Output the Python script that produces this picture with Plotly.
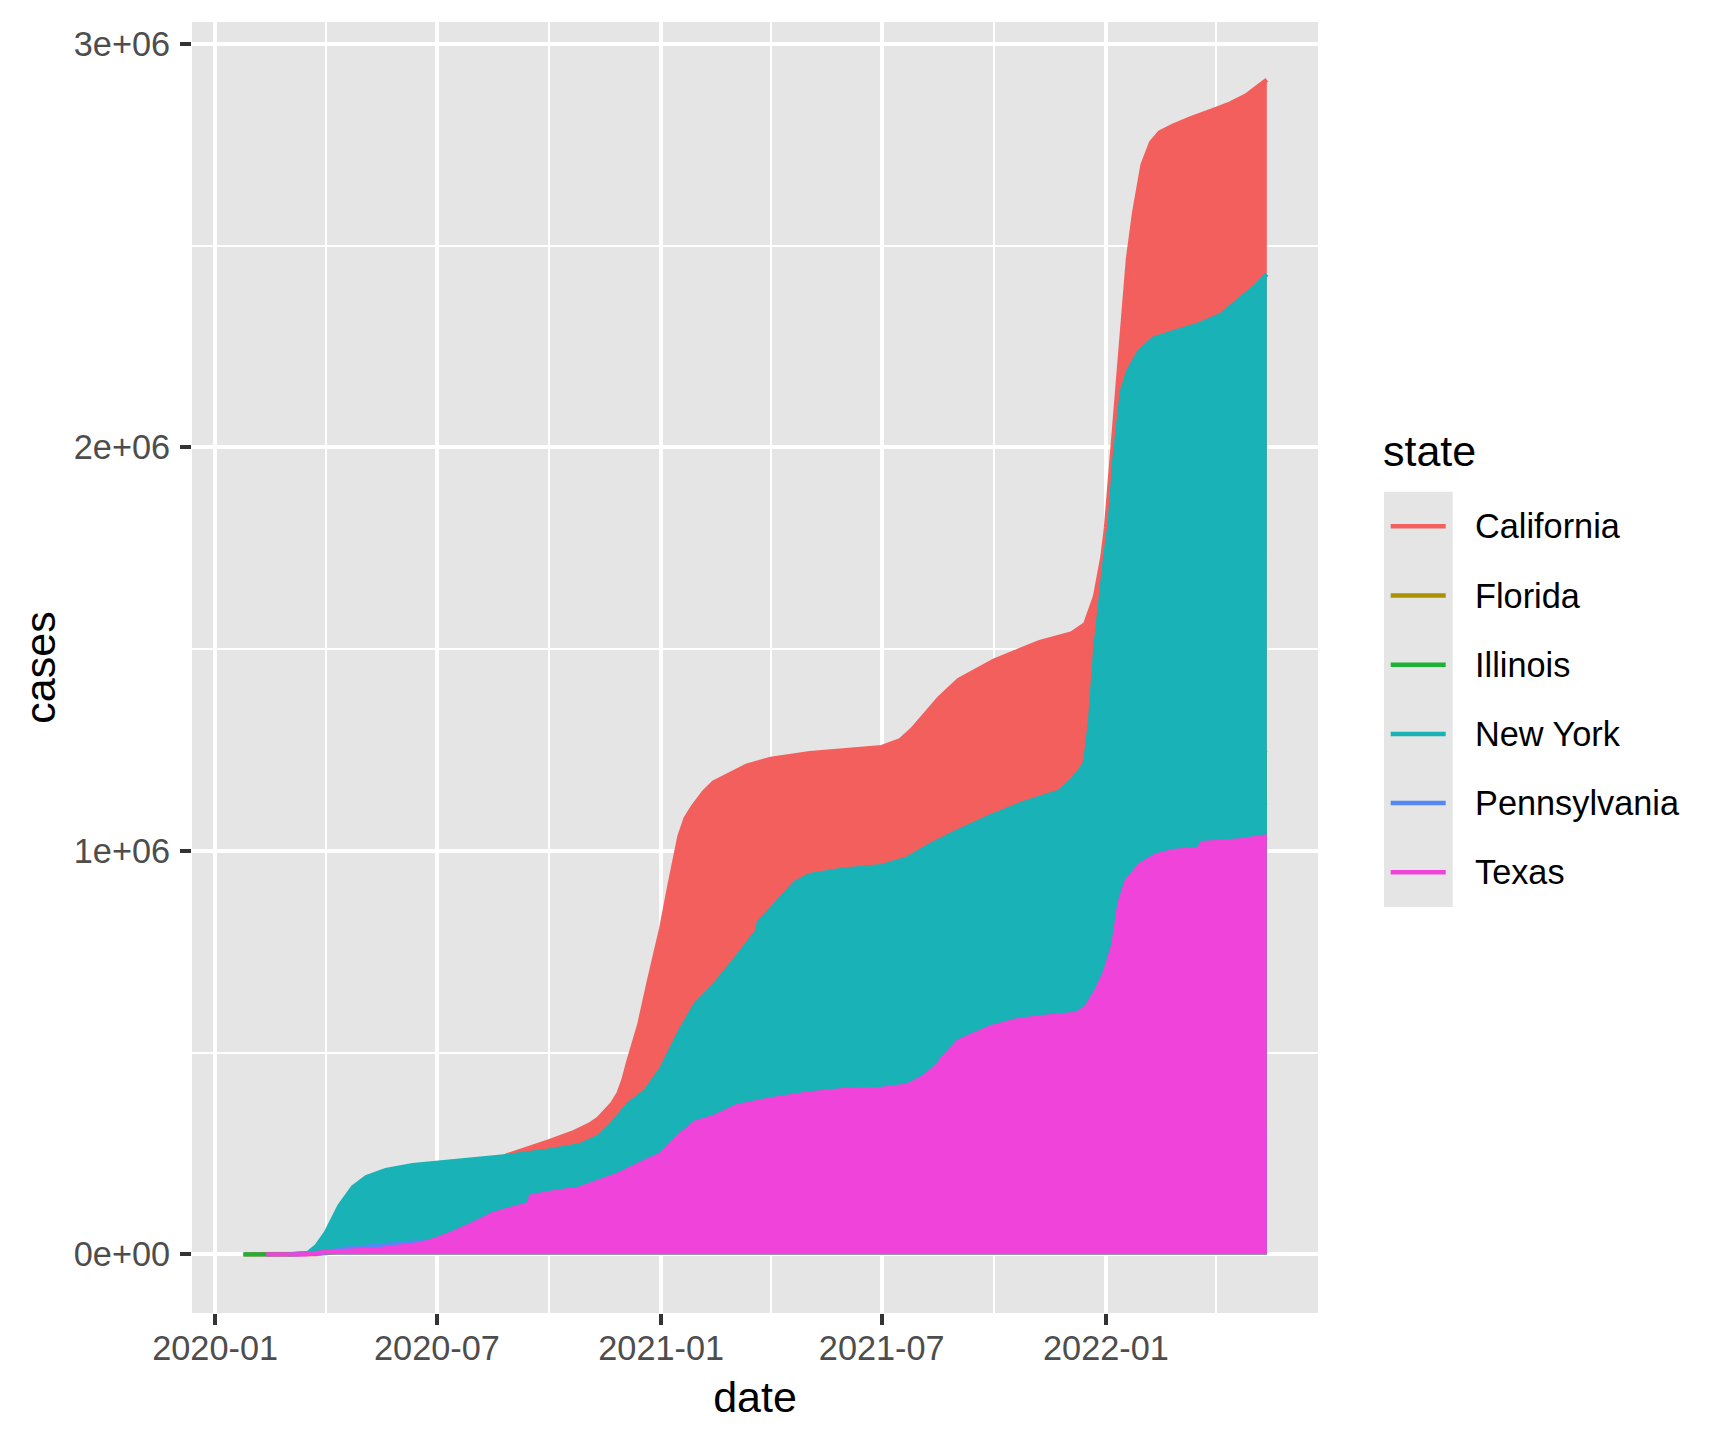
import plotly.graph_objects as go

# ---------------- data (max county cumulative cases per state) -------------
states = ["California", "Florida", "Illinois", "New York", "Pennsylvania", "Texas"]
colors = ["#F25F5C", "#AD9000", "#1DB235", "#19B2B7", "#5588F5", "#EF43DA"]

ca_dates = ["2020-01-25", "2020-03-01", "2020-03-24", "2020-04-01", "2020-05-01", "2020-06-01",
            "2020-07-01", "2020-08-01", "2020-08-15", "2020-08-27", "2020-09-14", "2020-10-01",
            "2020-10-20", "2020-11-03", "2020-11-10", "2020-11-16", "2020-11-22", "2020-11-27",
            "2020-12-01", "2020-12-05", "2020-12-14", "2020-12-22", "2021-01-01", "2021-01-08",
            "2021-01-16", "2021-01-21", "2021-01-27", "2021-02-05", "2021-02-13", "2021-03-12",
            "2021-04-01", "2021-05-03", "2021-05-25", "2021-07-01", "2021-07-16", "2021-07-26",
            "2021-08-17", "2021-09-02", "2021-10-01", "2021-11-07", "2021-12-04", "2021-12-15",
            "2021-12-23", "2021-12-29", "2022-01-01", "2022-01-05", "2022-01-10", "2022-01-14",
            "2022-01-19", "2022-01-24", "2022-01-31", "2022-02-07", "2022-02-14", "2022-02-25",
            "2022-03-11", "2022-03-30", "2022-04-13", "2022-04-26", "2022-05-07", "2022-05-13"]
ca_cases = [0, 0, 700, 4000, 24000, 55000,
            105000, 195000, 225000, 245000, 262000, 280000,
            301000, 321000, 335000, 353000, 374000, 399000,
            432000, 477000, 569000, 678000, 807000, 917000,
            1036000, 1080000, 1109000, 1145000, 1169000, 1211000,
            1228000, 1242000, 1248000, 1257000, 1274000, 1301000,
            1378000, 1423000, 1471000, 1517000, 1539000, 1562000,
            1630000, 1727000, 1800000, 1950000, 2138000, 2300000,
            2466000, 2580000, 2700000, 2755000, 2780000, 2797000,
            2815000, 2836000, 2852000, 2872000, 2897000, 2911000]

fl_dates = ["2020-03-01", "2020-04-01", "2020-05-01", "2020-06-01", "2020-07-01", "2020-08-01",
            "2020-09-01", "2020-12-01", "2021-01-01", "2021-04-01", "2021-07-01", "2021-09-01",
            "2022-01-01", "2022-02-01", "2022-05-13"]
fl_cases = [0, 3000, 13000, 19000, 45000, 120000,
            160000, 220000, 280000, 420000, 500000, 600000,
            800000, 1150000, 1250000]

il_dates = ["2020-01-24", "2020-03-01", "2020-04-01", "2020-05-01", "2020-06-01", "2020-07-01",
            "2020-09-01", "2020-11-01", "2020-12-01", "2021-01-01", "2021-04-01", "2021-07-01",
            "2021-12-01", "2022-01-01", "2022-02-01", "2022-05-13"]
il_cases = [0, 0, 5000, 50000, 85000, 90000,
            120000, 190000, 300000, 360000, 430000, 560000,
            640000, 800000, 1050000, 1120000]

ny_dates = ["2020-03-01", "2020-03-10", "2020-03-17", "2020-03-24", "2020-04-01", "2020-04-12",
            "2020-04-23", "2020-05-04", "2020-05-20", "2020-06-11", "2020-07-01", "2020-08-05",
            "2020-08-27", "2020-09-29", "2020-10-26", "2020-11-11", "2020-11-21", "2020-12-05",
            "2020-12-19", "2021-01-01", "2021-01-16", "2021-01-29", "2021-02-13", "2021-03-01",
            "2021-03-21", "2021-03-22", "2021-04-08", "2021-04-21", "2021-05-03", "2021-05-30",
            "2021-07-01", "2021-07-22", "2021-08-09", "2021-08-17", "2021-08-30", "2021-09-28",
            "2021-10-26", "2021-11-24", "2021-12-04", "2021-12-12", "2021-12-15", "2021-12-19",
            "2021-12-23", "2021-12-27", "2021-12-31", "2022-01-04", "2022-01-08", "2022-01-14",
            "2022-01-19", "2022-01-28", "2022-02-09", "2022-02-25", "2022-03-16", "2022-04-05",
            "2022-04-21", "2022-05-04", "2022-05-13"]
ny_cases = [0, 300, 3000, 20000, 54000, 120000,
            166000, 191000, 209000, 221000, 227000, 236000,
            243000, 256000, 270000, 292000, 321000, 372000,
            404000, 459000, 550000, 619000, 665000, 724000,
            802000, 822000, 880000, 921000, 940000, 953000,
            962000, 981000, 1013000, 1025000, 1045000, 1085000,
            1119000, 1147000, 1175000, 1204000, 1221000, 1323000,
            1494000, 1607000, 1721000, 1809000, 1973000, 2138000,
            2187000, 2236000, 2269000, 2285000, 2302000, 2327000,
            2368000, 2400000, 2429000]

pa_dates = ["2020-03-06", "2020-04-01", "2020-04-13", "2020-05-15", "2020-06-10", "2020-07-01",
            "2020-09-01", "2020-12-01", "2021-01-01", "2021-06-01", "2022-01-01", "2022-05-13"]
pa_cases = [0, 4000, 13000, 23000, 29000, 31000,
            36000, 80000, 110000, 150000, 240000, 310000]

tx_dates = ["2020-02-12", "2020-03-15", "2020-04-01", "2020-05-15", "2020-06-17", "2020-07-01",
            "2020-07-14", "2020-08-01", "2020-08-16", "2020-09-01", "2020-09-15", "2020-09-16",
            "2020-10-03", "2020-10-26", "2020-11-11", "2020-11-27", "2020-12-19", "2021-01-01",
            "2021-01-16", "2021-01-29", "2021-02-13", "2021-03-04", "2021-04-01", "2021-05-03",
            "2021-05-30", "2021-07-01", "2021-07-22", "2021-08-05", "2021-08-17", "2021-08-19",
            "2021-09-02", "2021-09-28", "2021-10-19", "2021-11-07", "2021-12-08", "2021-12-16",
            "2021-12-24", "2021-12-31", "2022-01-07", "2022-01-12", "2022-01-18", "2022-01-29",
            "2022-02-11", "2022-02-25", "2022-03-18", "2022-03-21", "2022-04-21", "2022-05-13"]
tx_cases = [0, 100, 6000, 13000, 25000, 38000,
            53000, 77000, 100000, 112000, 125000, 143000,
            153000, 163000, 180000, 198000, 230000, 248000,
            294000, 326000, 340000, 367000, 384000, 399000,
            407000, 410000, 418000, 440000, 471000, 482000,
            528000, 562000, 579000, 587000, 596000, 613000,
            653000, 698000, 766000, 869000, 925000, 965000,
            988000, 999000, 1005000, 1019000, 1026000, 1036000]

x_tickvals = ["2020-01-01", "2020-07-01", "2021-01-01", "2021-07-01", "2022-01-01"]
x_ticktext = ["2020-01", "2020-07", "2021-01", "2021-07", "2022-01"]
y_tickvals = [0, 1000000, 2000000, 3000000]
y_ticktext = ["0e+00", "1e+06", "2e+06", "3e+06"]

series = [(ca_dates, ca_cases), (fl_dates, fl_cases), (il_dates, il_cases),
          (ny_dates, ny_cases), (pa_dates, pa_cases), (tx_dates, tx_cases)]

# ---------------- layout geometry (page pixels; page body has an 8px margin) ----------------
OFF = 8
W, H = 1728 - 2 * OFF, 1440 - 2 * OFF
PL, PR, PT, PB = 192 - OFF, 1318 - OFF, 22 - OFF, 1313 - OFF
FONT = "Liberation Sans, Arial, sans-serif"


def px(x):
    return (x - OFF - PL) / (PR - PL)


def py(y):
    return (PB - (y - OFF)) / (PB - PT)


fig = go.Figure()
for name, col, (d, v) in zip(states, colors, series):
    fig.add_trace(go.Scatter(x=d, y=v, mode="lines", name=name, fill="tozeroy",
                             fillcolor=col, line=dict(color=col, width=4.3),
                             showlegend=False))

# custom ggplot-like legend
key_x0, key_x1 = 1384, 1452.7
key_top, key_h = 491.7, 69.2
shapes = [dict(type="rect", xref="paper", yref="paper", x0=px(key_x0), x1=px(key_x1),
               y0=py(key_top + key_h * len(states)), y1=py(key_top),
               fillcolor="#E5E5E5", line=dict(width=0), layer="below")]
annotations = [dict(text="state", xref="paper", yref="paper", x=px(1381), y=py(451),
                    xanchor="left", yanchor="middle", showarrow=False,
                    font=dict(family=FONT, size=43, color="black"))]
for i, (name, col) in enumerate(zip(states, colors)):
    yc = key_top + key_h * (i + 0.5)
    shapes.append(dict(type="line", xref="paper", yref="paper", x0=px(1390.7), x1=px(1445.7),
                       y0=py(yc), y1=py(yc), line=dict(color=col, width=4.5)))
    annotations.append(dict(text=name, xref="paper", yref="paper", x=px(1473), y=py(yc),
                            xanchor="left", yanchor="middle", showarrow=False,
                            font=dict(family=FONT, size=34.3, color="black")))

fig.update_layout(
    width=W, height=H,
    margin=dict(l=PL, r=W - PR, t=PT, b=H - PB, autoexpand=False),
    paper_bgcolor="white", plot_bgcolor="#E5E5E5",
    font=dict(family=FONT, size=34.3, color="#4D4D4D"),
    showlegend=False,
    shapes=shapes, annotations=annotations,
)
fig.update_xaxes(
    type="date", range=["2019-12-13", "2022-06-24"],
    tickvals=x_tickvals, ticktext=x_ticktext,
    ticks="outside", ticklen=11, tickwidth=4, tickcolor="#333333",
    tickfont=dict(family=FONT, size=34.3, color="#4D4D4D"),
    ticklabelstandoff=-6,
    showgrid=True, gridcolor="white", gridwidth=4,
    minor=dict(dtick="M3", tick0="2020-01-01", showgrid=True, gridcolor="white", gridwidth=2),
    zeroline=False, showline=False, automargin=False,
    title=dict(text="date", font=dict(family=FONT, size=43, color="black"), standoff=15),
)
fig.update_yaxes(
    range=[-145500, 3054000],
    tickvals=y_tickvals, ticktext=y_ticktext,
    ticks="outside", ticklen=11, tickwidth=4, tickcolor="#333333",
    tickfont=dict(family=FONT, size=34.3, color="#4D4D4D"),
    ticklabelstandoff=3,
    showgrid=True, gridcolor="white", gridwidth=4,
    minor=dict(dtick=500000, tick0=0, showgrid=True, gridcolor="white", gridwidth=2),
    zeroline=False, showline=False, automargin=False,
    title=dict(text="cases", font=dict(family=FONT, size=43, color="black"), standoff=4),
)

fig.write_html("out.html")
